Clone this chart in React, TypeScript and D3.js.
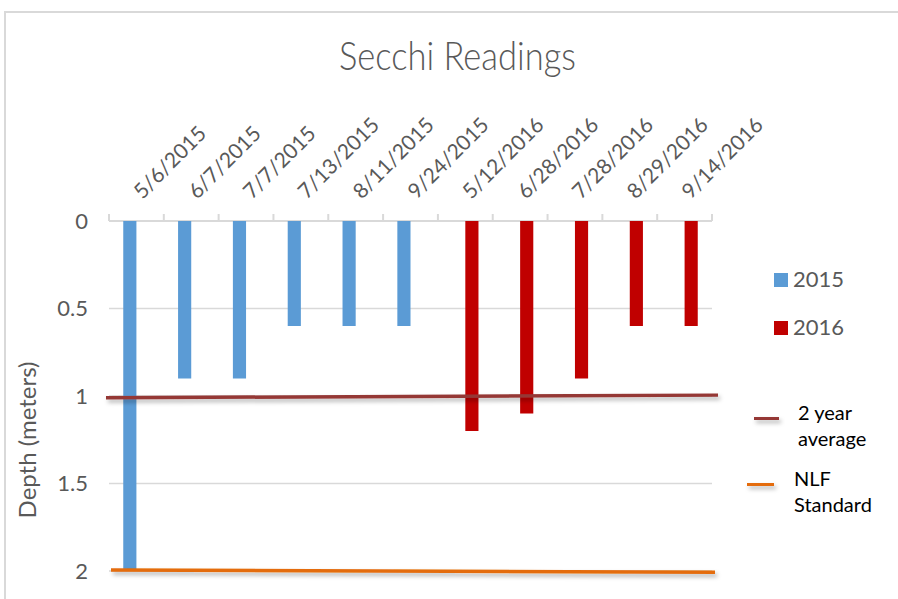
import React, { useRef, useEffect } from "react";
import * as d3 from "d3";

// Sample dates (one bar each) and the season they belong to
const dates = [
  "5/6/2015", "6/7/2015", "7/7/2015", "7/13/2015", "8/11/2015", "9/24/2015",
  "5/12/2016", "6/28/2016", "7/28/2016", "8/29/2016", "9/14/2016",
];
const seriesNames = ["2015", "2016"];
const values2015 = [2.0, 0.9, 0.9, 0.6, 0.6, 0.6, null, null, null, null, null];
const values2016 = [null, null, null, null, null, null, 1.2, 1.1, 0.9, 0.6, 0.6];
const yTicks = [0, 0.5, 1, 1.5, 2];
// hand-drawn reference lines, value at left end / right end
const avgLine = [1.01, 0.995];
const nlfLine = [1.994, 2.007];

const COLORS = { "2015": "#5B9BD5", "2016": "#C00000" };
const AVG_COLOR = "#953735";
const NLF_COLOR = "#E46C0A";
const FONT = "Lato, 'Open Sans', sans-serif";

const W = 898;
const H = 599;

const App = () => {
  const svgRef = useRef<SVGSVGElement>(null);

  useEffect(() => {
    const svg = d3.select(svgRef.current);
    svg.selectAll("*").remove();

    const marginLeft = 109;
    const plotRight = 712;
    const plotTop = 221;
    const plotBottom = 571;

    // soft shadow under the drawn lines (user space so flat lines still render)
    const defs = svg.append("defs");
    const shadow = defs.append("filter").attr("id", "line-shadow")
      .attr("filterUnits", "userSpaceOnUse")
      .attr("x", 0).attr("y", 0).attr("width", W).attr("height", H);
    shadow.append("feDropShadow")
      .attr("dx", 2).attr("dy", 3).attr("stdDeviation", 2)
      .attr("flood-color", "#000").attr("flood-opacity", 0.3);

    // chart frame
    svg.append("rect")
      .attr("x", 5).attr("y", 12)
      .attr("width", W + 20).attr("height", H + 20)
      .attr("fill", "#fff")
      .attr("stroke", "#D9D9D9").attr("stroke-width", 2);

    // --- Scales ---
    const x = d3.scaleBand<string>().domain(dates).range([marginLeft, plotRight]).padding(0);
    const bw = x.bandwidth();
    const xs = d3.scaleBand<string>().domain(seriesNames).range([bw * 0.26, bw * 0.74]).padding(0);
    const y = d3.scaleLinear().domain([0, 2]).range([plotTop, plotBottom]);

    // --- Title ---
    svg.append("text")
      .attr("x", 457.5).attr("y", 70)
      .attr("text-anchor", "middle")
      .attr("fill", "#595959")
      .style("font-family", FONT)
      .style("font-size", "40px")
      .style("font-weight", 300)
      .attr("textLength", 237)
      .attr("lengthAdjust", "spacingAndGlyphs")
      .text("Secchi Readings");

    // --- Grid lines ---
    svg.append("g")
      .selectAll("line")
      .data(yTicks.filter((d) => d > 0))
      .join("line")
      .attr("x1", marginLeft).attr("x2", plotRight)
      .attr("y1", (d) => y(d)).attr("y2", (d) => y(d))
      .attr("stroke", "#D9D9D9").attr("stroke-width", 1.5);

    // --- Y axis labels ---
    svg.append("g")
      .selectAll("text")
      .data(yTicks)
      .join("text")
      .attr("x", 88)
      .attr("y", (d) => y(d))
      .attr("dy", "0.36em")
      .attr("text-anchor", "end")
      .attr("fill", "#595959")
      .style("font-family", FONT)
      .style("font-size", "22px")
      .text((d) => String(d));

    svg.append("text")
      .attr("transform", `translate(36,440) rotate(-90)`)
      .attr("text-anchor", "middle")
      .attr("fill", "#595959")
      .style("font-family", FONT)
      .style("font-size", "24px")
      .text("Depth (meters)");

    // --- Category axis (at depth 0, top) ---
    const axis = svg.append("g");
    axis.append("line")
      .attr("x1", marginLeft).attr("x2", plotRight)
      .attr("y1", y(0)).attr("y2", y(0))
      .attr("stroke", "#D9D9D9").attr("stroke-width", 2);
    const boundaries = dates.map((d) => x(d) as number).concat([plotRight]);
    axis.selectAll("line.tick")
      .data(boundaries)
      .join("line")
      .attr("class", "tick")
      .attr("x1", (d) => d).attr("x2", (d) => d)
      .attr("y1", y(0)).attr("y2", y(0) - 7)
      .attr("stroke", "#D9D9D9").attr("stroke-width", 2);

    axis.selectAll("text")
      .data(dates)
      .join("text")
      .attr("transform", (d) => `translate(${(x(d) as number) + bw / 2 + 6},${y(0) - 21}) rotate(-45)`)
      .attr("text-anchor", "start")
      .attr("fill", "#595959")
      .style("font-family", FONT)
      .style("font-size", "21px")
      .text((d) => d);

    // --- Bars ---
    const rows = dates.map((d, i) => ({ date: d, "2015": values2015[i], "2016": values2016[i] }));
    seriesNames.forEach((s) => {
      svg.append("g")
        .selectAll("rect")
        .data(rows.filter((r) => r[s] != null))
        .join("rect")
        .attr("x", (r) => (x(r.date) as number) + (xs(s) as number))
        .attr("width", xs.bandwidth())
        .attr("y", y(0))
        .attr("height", (r) => y(r[s] as number) - y(0))
        .attr("fill", COLORS[s]);
    });

    // --- Reference lines ---
    const lineX = d3.scaleLinear().domain([0, 1]);
    const refLine = (vals: number[], x0: number, x1: number, color: string) => {
      lineX.range([x0, x1]);
      const gen = d3.line<number>().x((_, i) => lineX(i)).y((v) => y(v));
      svg.append("path")
        .datum(vals)
        .attr("d", gen)
        .attr("fill", "none")
        .attr("stroke", color)
        .attr("stroke-width", 3.5)
        .attr("filter", "url(#line-shadow)");
    };
    refLine(avgLine, marginLeft - 3, plotRight + 6, AVG_COLOR);
    refLine(nlfLine, marginLeft + 2, plotRight + 3, NLF_COLOR);

    // --- Legend ---
    const legend = svg.append("g");
    seriesNames.forEach((s, i) => {
      const ly = 280 + i * 48;
      legend.append("rect")
        .attr("x", 774).attr("y", ly - 7)
        .attr("width", 14).attr("height", 14)
        .attr("fill", COLORS[s]);
      legend.append("text")
        .attr("x", 793).attr("y", ly + 7)
        .attr("fill", "#595959")
        .style("font-family", FONT)
        .style("font-size", "22px")
        .text(s);
    });

    const lineItems = [
      { color: AVG_COLOR, x0: 754, x1: 779, y: 418.5, tx: 798, lines: ["2 year", "average"], base: 420 },
      { color: NLF_COLOR, x0: 747, x1: 774, y: 484.5, tx: 794, lines: ["NLF", "Standard"], base: 486 },
    ];
    lineItems.forEach((it) => {
      legend.append("line")
        .attr("x1", it.x0).attr("x2", it.x1)
        .attr("y1", it.y).attr("y2", it.y)
        .attr("stroke", it.color).attr("stroke-width", 3)
        .attr("filter", "url(#line-shadow)");
      const t = legend.append("text")
        .attr("fill", "#000")
        .style("font-family", FONT)
        .style("font-size", "20px");
      it.lines.forEach((l, j) => {
        t.append("tspan").attr("x", it.tx).attr("y", it.base + j * 26).text(l);
      });
    });
  }, []);

  return (
    <svg
      ref={svgRef}
      width={W}
      height={H}
      viewBox={`0 0 ${W} ${H}`}
      style={{ position: "absolute", left: 0, top: 0, background: "#fff" }}
    />
  );
};

export default App;
